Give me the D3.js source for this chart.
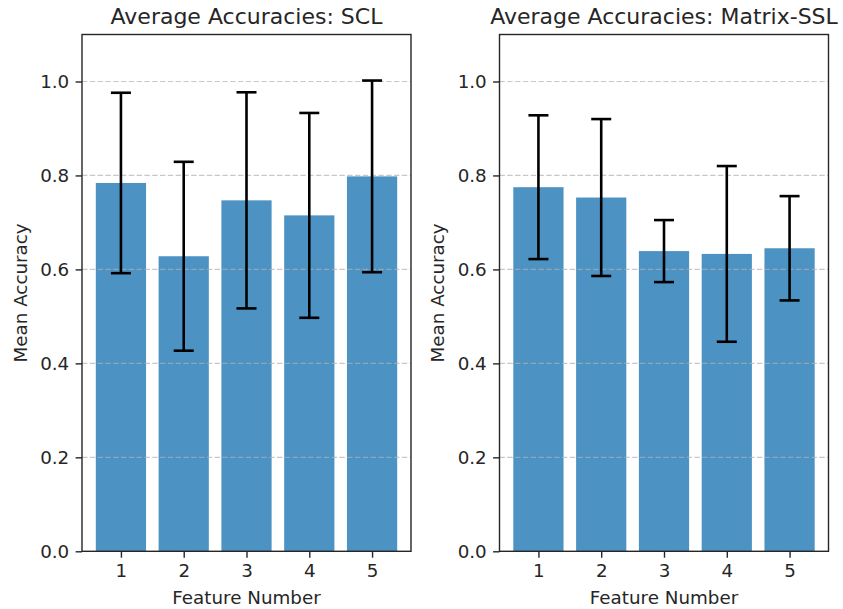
<!DOCTYPE html>
<meta charset="utf-8">
<style>
body { margin: 0; background: #fff; }
text { font-family: "DejaVu Sans", sans-serif; fill: #262626; }
.axis text { font-size: 18.3px; fill: #262626; }
.axis path, .axis line { stroke: #262626; stroke-width: 1.4px; }
.frame { fill: none; stroke: #262626; stroke-width: 1.4px; }
.grid line { stroke: #b0b0b0; stroke-opacity: 0.7; stroke-width: 1.2px; stroke-dasharray: 5.4, 2.4; }
.bar { fill: #1f77b4; fill-opacity: 0.8; }
.err { stroke: #000; stroke-width: 2.6px; fill: none; }
</style>
<svg width="843" height="609"></svg>
<script src="https://d3js.org/d3.v7.min.js"></script>
<script>
var features = [1, 2, 3, 4, 5];
var yTicks = [0, 0.2, 0.4, 0.6, 0.8, 1.0];

var sclMean = [0.784, 0.628, 0.747, 0.715, 0.798];
var sclStd  = [0.192, 0.201, 0.230, 0.218, 0.204];

var sslMean = [0.775, 0.753, 0.639, 0.633, 0.645];
var sslStd  = [0.153, 0.167, 0.066, 0.187, 0.111];

var titles = ["Average Accuracies: SCL", "Average Accuracies: Matrix-SSL"];

var svg = d3.select("svg");
var plotTop = 34.5, plotBottom = 551.3;

var y = d3.scaleLinear().domain([0, 1.1]).range([plotBottom, plotTop]);

function panel(left, right, means, stds, title) {
  var x = d3.scaleLinear().domain([0.38, 5.62]).range([left, right]);
  var bw = x(0.8) - x(0);
  var g = svg.append("g");

  g.selectAll(".bar")
    .data(features)
    .enter().append("rect")
      .attr("class", "bar")
      .attr("x", function(d) { return x(d) - bw / 2; })
      .attr("width", bw)
      .attr("y", function(d, i) { return y(means[i]); })
      .attr("height", function(d, i) { return y(0) - y(means[i]); });

  // grid over the bars, like the reference
  g.append("g")
      .attr("class", "grid")
    .selectAll("line")
    .data(yTicks.slice(1))
    .enter().append("line")
      .attr("x1", left).attr("x2", right)
      .attr("y1", function(d) { return y(d); })
      .attr("y2", function(d) { return y(d); });

  var err = g.selectAll(".errg")
    .data(features)
    .enter().append("g");
  err.append("line")
      .attr("class", "err")
      .attr("x1", function(d) { return x(d); })
      .attr("x2", function(d) { return x(d); })
      .attr("y1", function(d, i) { return y(means[i] - stds[i]); })
      .attr("y2", function(d, i) { return y(means[i] + stds[i]); });
  [-1, 1].forEach(function(s) {
    err.append("line")
        .attr("class", "err")
        .attr("x1", function(d) { return x(d) - 10; })
        .attr("x2", function(d) { return x(d) + 10; })
        .attr("y1", function(d, i) { return y(means[i] + s * stds[i]); })
        .attr("y2", function(d, i) { return y(means[i] + s * stds[i]); });
  });

  g.append("rect")
      .attr("class", "frame")
      .attr("x", left).attr("y", plotTop)
      .attr("width", right - left).attr("height", plotBottom - plotTop);

  g.append("g")
      .attr("class", "axis")
      .attr("transform", "translate(0," + plotBottom + ")")
      .call(d3.axisBottom(x).tickValues(features).tickFormat(d3.format("d"))
            .tickSize(6.4).tickPadding(6.4))
    .call(function(a) { a.select(".domain").remove(); });

  g.append("g")
      .attr("class", "axis")
      .attr("transform", "translate(" + left + ",0)")
      .call(d3.axisLeft(y).tickValues(yTicks).tickFormat(d3.format(".1f"))
            .tickSize(6.4).tickPadding(6.4))
    .call(function(a) { a.select(".domain").remove(); });

  g.append("text")
      .attr("x", (left + right) / 2)
      .attr("y", 24)
      .attr("text-anchor", "middle")
      .style("font-size", "22px")
      .text(title);

  g.append("text")
      .attr("x", (left + right) / 2)
      .attr("y", 604)
      .attr("text-anchor", "middle")
      .style("font-size", "18.3px")
      .text("Feature Number");

  g.append("text")
      .attr("transform", "translate(" + (left - 55.5) + "," + ((plotTop + plotBottom) / 2) + ") rotate(-90)")
      .attr("text-anchor", "middle")
      .style("font-size", "18.3px")
      .text("Mean Accuracy");
}

panel(82, 411, sclMean, sclStd, titles[0]);
panel(499.5, 828.5, sslMean, sslStd, titles[1]);
</script>
